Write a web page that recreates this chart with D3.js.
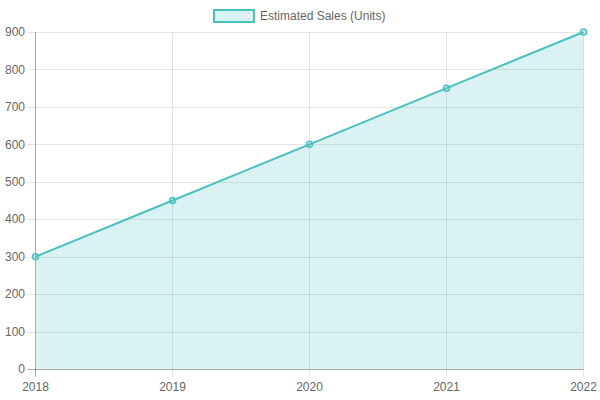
<!DOCTYPE html>
<html>
<head>
<meta charset="utf-8">
<script src="https://cdn.jsdelivr.net/npm/d3@7"></script>
<style>
  html, body { margin: 0; padding: 0; background: #fff; }
  svg { display: block; }
  text { font-family: "Liberation Sans", Arial, Helvetica, sans-serif; font-size: 12px; fill: #666; }
</style>
</head>
<body>
<svg id="chart" width="600" height="400"></svg>
<script>
const years = ["2018", "2019", "2020", "2021", "2022"];
const sales = [300, 450, 600, 750, 900];
const yTicks = [0, 100, 200, 300, 400, 500, 600, 700, 800, 900];
const seriesLabel = "Estimated Sales (Units)";

const lineColor = "rgb(75,192,192)";
const fillColor = "rgba(75,192,192,0.2)";
const gridColor = "rgba(0,0,0,0.1)";

const svg = d3.select("#chart");
const plotL = 35.5, plotR = 583.5, plotT = 32, plotB = 369;

const x = d3.scalePoint().domain(years).range([plotL, plotR]);
const y = d3.scaleLinear().domain([0, 900]).range([plotB, plotT]);

const data = years.map((yr, i) => ({ yr, v: sales[i] }));

// grid lines
const g = svg.append("g");
g.selectAll(".hgrid").data(yTicks).enter().append("line")
  .attr("x1", plotL - 8).attr("x2", plotR)
  .attr("y1", d => Math.round(y(d)) + 0.5).attr("y2", d => Math.round(y(d)) + 0.5)
  .attr("stroke", gridColor).attr("stroke-width", 1);
g.selectAll(".vgrid").data(years).enter().append("line")
  .attr("x1", d => x(d)).attr("x2", d => x(d))
  .attr("y1", plotT).attr("y2", plotB + 8)
  .attr("stroke", gridColor).attr("stroke-width", 1);

// axis lines (darker zero lines)
svg.append("line").attr("x1", plotL).attr("x2", plotL).attr("y1", plotT).attr("y2", plotB + 8)
  .attr("stroke", "rgba(0,0,0,0.25)");
svg.append("line").attr("x1", plotL - 8).attr("x2", plotR).attr("y1", plotB + 0.5).attr("y2", plotB + 0.5)
  .attr("stroke", "rgba(0,0,0,0.25)");

// area
const area = d3.area().x(d => x(d.yr)).y0(y(0)).y1(d => y(d.v));
svg.append("path").datum(data).attr("d", area).attr("fill", fillColor);

// line
const line = d3.line().x(d => x(d.yr)).y(d => y(d.v));
svg.append("path").datum(data).attr("d", line)
  .attr("fill", "none").attr("stroke", lineColor).attr("stroke-width", 2);

// points
svg.selectAll(".pt").data(data).enter().append("circle")
  .attr("cx", d => x(d.yr)).attr("cy", d => y(d.v)).attr("r", 3)
  .attr("fill", fillColor).attr("stroke", lineColor).attr("stroke-width", 1.5);

// y labels
svg.selectAll(".ylab").data(yTicks).enter().append("text")
  .attr("x", 25).attr("y", d => y(d)).attr("dy", "0.35em")
  .attr("text-anchor", "end").text(d => d);

// x labels
svg.selectAll(".xlab").data(years).enter().append("text")
  .attr("x", d => x(d)).attr("y", 390.5)
  .attr("text-anchor", "middle").text(d => d);

// legend
const lg = svg.append("g");
lg.append("rect").attr("x", 214).attr("y", 10).attr("width", 40).attr("height", 12)
  .attr("fill", fillColor).attr("stroke", lineColor).attr("stroke-width", 2);
lg.append("text").attr("x", 260).attr("y", 16).attr("dy", "0.35em").text(seriesLabel);
</script>
</body>
</html>
